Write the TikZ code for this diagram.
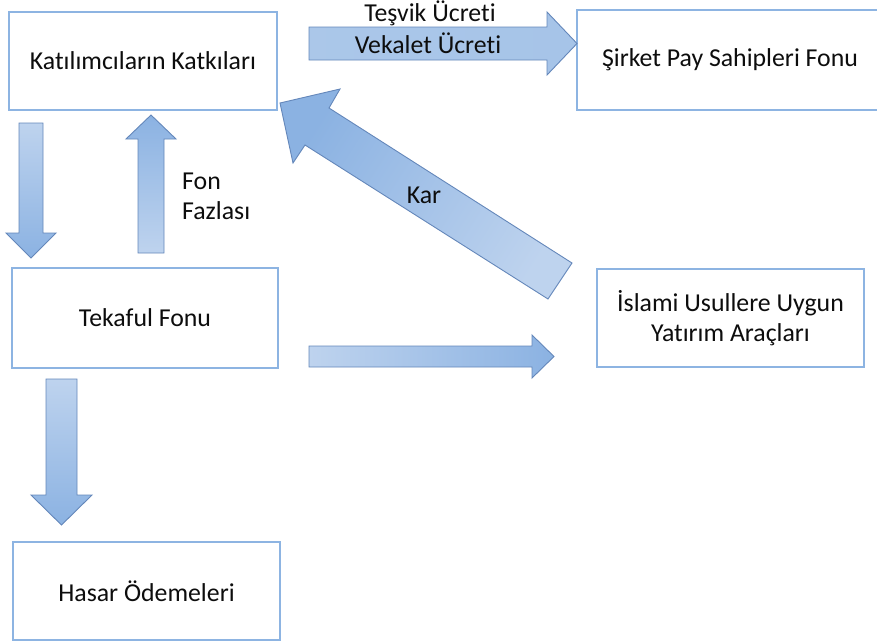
\documentclass[tikz,border=0pt]{standalone}
\usepackage{fontspec}
\setmainfont[Ligatures={NoCommon}]{Carlito}
\definecolor{boxline}{RGB}{141,180,226}
\definecolor{arrline}{RGB}{100,135,186}
\definecolor{arrlight}{RGB}{190,211,238}
\definecolor{arrdark}{RGB}{139,178,226}
\definecolor{arrmid}{RGB}{166,196,232}
\definecolor{txt}{RGB}{13,13,13}
\begin{document}
\begin{tikzpicture}[x=1pt,y=-1pt,
  every node/.style={text=txt,font=\fontsize{25.8}{30}\selectfont},
  box/.style={draw=boxline,line width=1.3pt,fill=white,inner sep=0pt,align=center},
  blockarrow/.style={draw=arrline,line width=0.9pt,line join=miter},
  lbl/.style={inner sep=0pt,anchor=base}]
\useasboundingbox (0,0) rectangle (877,643);

% boxes
\node[box,minimum width=268pt,minimum height=98pt] (kk) at (143,61) {Katılımcıların Katkıları};
\node[box,minimum width=306pt,minimum height=100pt] (spf) at (730,60) {Şirket Pay Sahipleri Fonu};
\node[box,minimum width=266pt,minimum height=100pt] (tf) at (145,318) {Tekaful Fonu};
\node[box,minimum width=267pt,minimum height=98pt] (isl) at (730.5,318) {İslami Usullere Uygun\\Yatırım Araçları};
\node[box,minimum width=267pt,minimum height=98pt] (hs) at (146.5,591) {Hasar Ödemeleri};

% block arrows
% Katkilar -> Tekaful (down)
\shadedraw[blockarrow,top color=arrlight,bottom color=arrdark]
  (19,123) -- (43,123) -- (43,233) -- (56,233) -- (31,258) -- (6,233) -- (19,233) -- cycle;
% Fon Fazlasi (up)
\shadedraw[blockarrow,top color=arrdark,bottom color=arrlight]
  (138,253) -- (164,253) -- (164,139) -- (176,139) -- (151,115) -- (126,139) -- (138,139) -- cycle;
% Vekalet (right, top)
\shadedraw[blockarrow,left color=arrmid!80!arrlight,right color=arrmid]
  (309,27) -- (547,27) -- (547,12) -- (577,43.5) -- (547,75) -- (547,60) -- (309,60) -- cycle;
% Kar (diagonal)
\shadedraw[blockarrow,top color=arrlight,bottom color=arrdark,shading angle=237.6]
  (572,263) -- (329,108) -- (340,89) -- (280,103) -- (293,163) -- (305,145) -- (548,299) -- cycle;
% Tekaful -> Islami (right)
\shadedraw[blockarrow,left color=arrlight,right color=arrdark]
  (309,346) -- (532,346) -- (532,335) -- (554,356.5) -- (532,378) -- (532,367) -- (309,367) -- cycle;
% Tekaful -> Hasar (down)
\shadedraw[blockarrow,top color=arrlight,bottom color=arrdark]
  (46,379) -- (77,379) -- (77,495) -- (92,495) -- (61.5,525) -- (31,495) -- (46,495) -- cycle;

% labels
\node[lbl] (tes) at (430,21) {Teşvik Ücreti};
\node[lbl] (vek) at (428,53) {Vekalet Ücreti};
\node[lbl] (kar) at (424,203) {Kar};
\node[lbl,anchor=base west] (fon1) at (182,189) {Fon};
\node[lbl,anchor=base west] (fon2) at (182,219) {Fazlası};
\end{tikzpicture}
\end{document}
